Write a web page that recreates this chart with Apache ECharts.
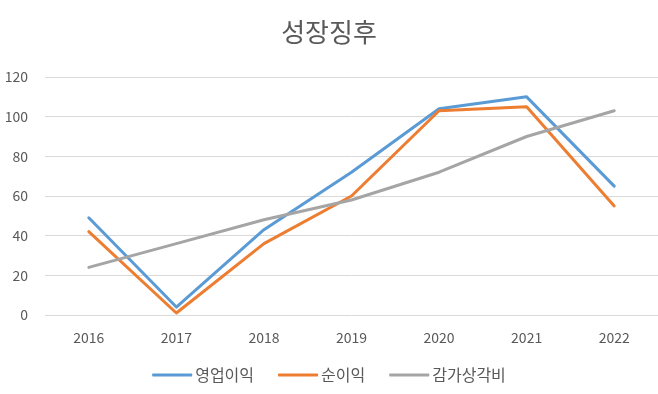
<!DOCTYPE html>
<html><head><meta charset="utf-8">
<script src="https://cdn.jsdelivr.net/npm/echarts@6/dist/echarts.min.js"></script>
<style>html,body{margin:0;padding:0;background:#fff}#c{width:658px;height:394px}</style>
</head><body><div id="c"></div>
<script>
const categories = ['2016','2017','2018','2019','2020','2021','2022'];
const operatingProfit = [49, 4, 43, 72, 104, 110, 65];
const netProfit = [42, 1, 36, 60, 103, 105, 55];
const depreciation = [24, 36, 48, 58, 72, 90, 103];
const seriesNames = ['영업이익', '순이익', '감가상각비'];
const titleText = '성장징후';

const font = "'Noto Sans CJK KR', 'Noto Sans', sans-serif";
const chart = echarts.init(document.getElementById('c'));
const mk = (name, data, color) => ({
  name, type: 'line', data, symbol: 'none', smooth: false,
  lineStyle: { width: 3, color, cap: 'round', join: 'round' },
  itemStyle: { color }
});
chart.setOption({
  animation: false,
  title: { text: titleText, left: 'center', top: 14,
    textStyle: { fontFamily: font, fontSize: 26, fontWeight: 'normal', color: '#595959' } },
  grid: { left: 45, right: 0, top: 77, bottom: 79 },
  legend: { bottom: 6, left: 'center', itemWidth: 40, itemHeight: 3, itemGap: 24,
    icon: 'roundRect',
    textStyle: { fontFamily: font, fontSize: 16, color: '#595959', padding: [0,0,0,-2] },
    data: seriesNames },
  xAxis: { type: 'category', data: categories, boundaryGap: true,
    axisLine: { show: false }, axisTick: { show: false },
    axisLabel: { fontFamily: font, fontSize: 14, color: '#595959', margin: 16 } },
  yAxis: { type: 'value', min: 0, max: 120, interval: 20,
    axisLine: { show: false }, axisTick: { show: false },
    splitLine: { lineStyle: { color: '#d9d9d9', width: 1 } },
    axisLabel: { fontFamily: font, fontSize: 14, color: '#595959', margin: 17 } },
  series: [
    mk(seriesNames[0], operatingProfit, '#5b9bd5'),
    mk(seriesNames[1], netProfit, '#ed7d31'),
    mk(seriesNames[2], depreciation, '#a5a5a5')
  ]
});
</script></body></html>
